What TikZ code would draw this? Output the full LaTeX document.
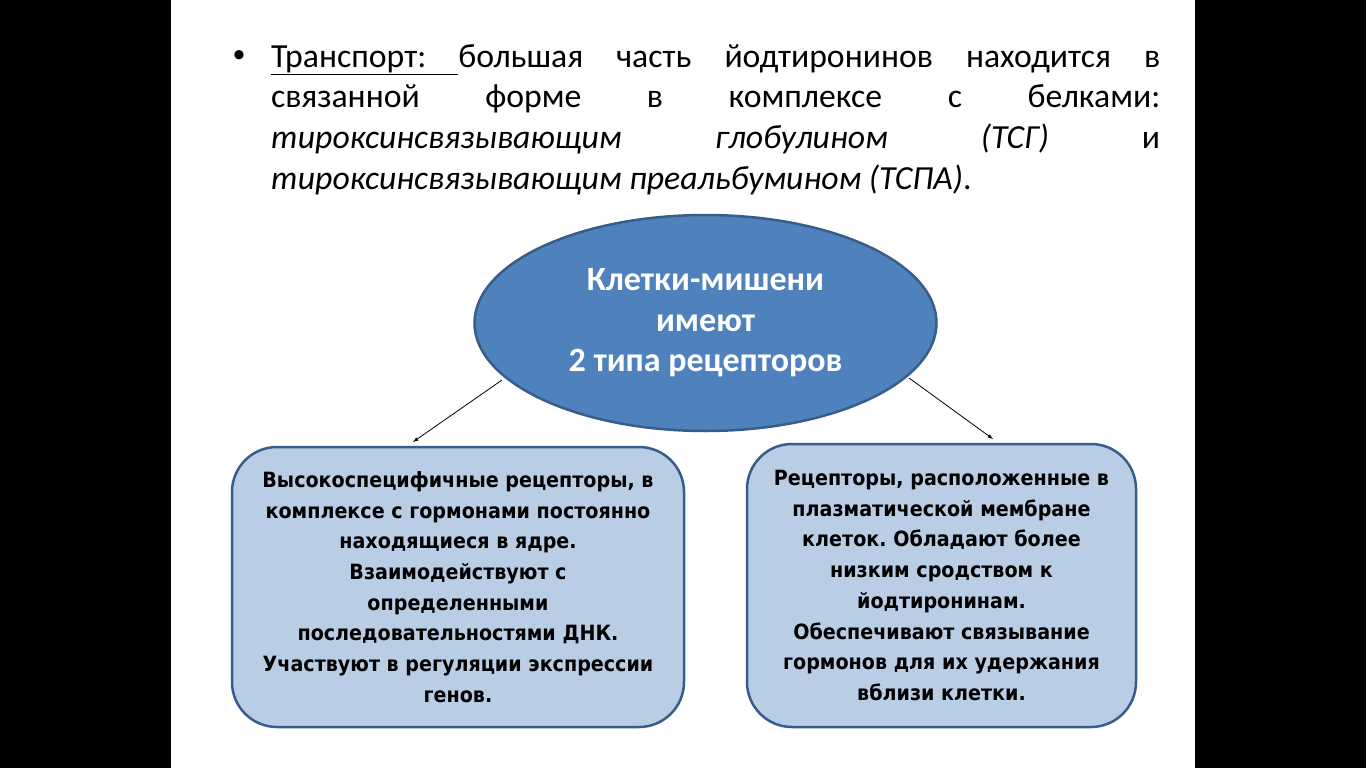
\documentclass[tikz,border=0pt]{standalone}
\usepackage{fontspec}
\setmainfont{Carlito}
\newfontfamily\boxfont[FakeStretch=0.91]{DejaVu Sans}
\usetikzlibrary{shapes.geometric}
\definecolor{ellfill}{HTML}{4F81BD}
\definecolor{ellborder}{HTML}{385D8A}
\definecolor{boxfill}{HTML}{B9CDE5}
\frenchspacing
\begin{document}
\begin{tikzpicture}[x=1pt,y=-1pt,
    recbox/.style={draw=ellborder, line width=2.5pt, fill=boxfill, rounded corners=45pt, align=center, font=\boxfont\bfseries\fontsize{21}{30.7}\selectfont},
    arr/.style={->, >=latex, line width=0.8pt}]
    % slide
    \fill[black] (0,0) rectangle (1366,768) ;
    \fill[white] (171,0) rectangle (1195,768) ;
    % bullet text
    \node[font=\fontsize{26}{30}\selectfont] (bul) at (239,57) {•};
    \node[anchor=north west, inner sep=0, text width=889pt, align=justify, font=\fontsize{33.7}{40.7}\selectfont] (transp) at (271,44)
    {\underline{Транспорт:\hspace{0.95em}}большая часть йодтиронинов находится в\linebreak
    связанной форме в комплексе с белками:\linebreak
    \textit{тироксинсвязывающим глобулином (ТСГ)} и\linebreak
    \textit{тироксинсвязывающим преальбумином (ТСПА)}.};
    % ellipse
    \node[ellipse, draw=ellborder, line width=2.5pt, fill=ellfill, minimum width=462pt, minimum height=216pt, align=center, text=white, font=\bfseries\fontsize{34}{40.5}\selectfont] (cell) at (705.5,323)
    {Клетки-мишени\\имеют\\2 типа рецепторов};
    % boxes
    \node[recbox, minimum width=452pt, minimum height=280pt] (nucl) at (458,587)
    {Высокоспецифичные рецепторы, в\\комплексе с гормонами постоянно\\находящиеся в ядре.\\Взаимодействуют с\\определенными\\последовательностями ДНК.\\Участвуют в регуляции экспрессии\\генов.};
    \node[recbox, minimum width=389pt, minimum height=283pt] (memb) at (941.5,585.5)
    {Рецепторы, расположенные в\\плазматической мембране\\клеток. Обладают более\\низким сродством к\\йодтиронинам.\\Обеспечивают связывание\\гормонов для их удержания\\вблизи клетки.};
    % arrows
    \coordinate (la) at (502,380) ;
    \coordinate (lb) at (413,442) ;
    \coordinate (ra) at (909,378) ;
    \coordinate (rb) at (993,439) ;
    \draw[arr] (la) -- (lb) ;
    \draw[arr] (ra) -- (rb) ;
\end{tikzpicture}
\end{document}
